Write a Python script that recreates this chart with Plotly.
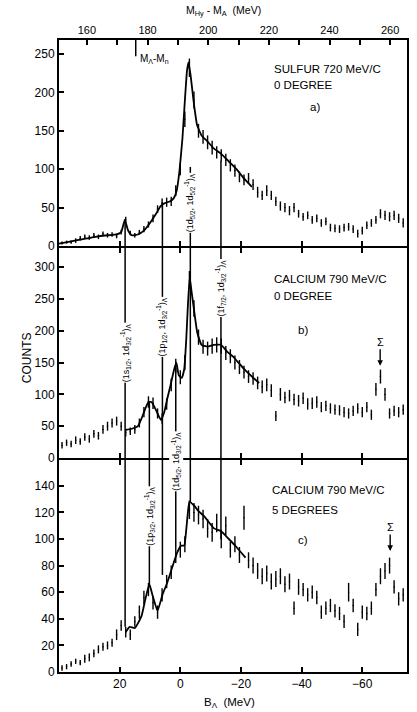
import numpy as np
import plotly.graph_objects as go

# Lambda binding energy bin centres (MeV), 1.5 MeV bins
B_BINS = np.arange(39.0, -74.0, -1.5)

# (a) 32S, 720 MeV/c, 0 degree
COUNTS_S = [4, 5, 5, 7, 10, 12, 11, 14, 12, 16,
            14, 15, 13, 18, 34, 17, 14, 18, 22, 28,
            36, 48, 56, 57, 58, 72, 100, 165, 232, 190,
            150, 142, 135, 128, 122, 118, 112, 105, 98, 90,
            86, 88, 80, 70, 66, 72, 66, 58, 52, 50,
            46, 50, 42, 38, 40, 34, 36, 30, 32, 24,
            23, 22, 24, 25, 22, 16, 20, 27, 30, 34,
            42, 40, 38, 40, 36, 30]
ERR_S = [2, 2, 2, 3, 3, 3, 3, 3, 3, 3,
         3, 3, 3, 3, 4, 3, 3, 3, 4, 4,
         5, 5, 6, 6, 6, 7, 8, 10, 12, 11,
         9, 9, 9, 9, 8, 8, 8, 8, 8, 7,
         7, 7, 7, 7, 6, 7, 6, 6, 6, 6,
         6, 6, 5, 5, 5, 5, 5, 5, 5, 5,
         5, 5, 5, 5, 5, 5, 5, 5, 5, 5,
         6, 6, 6, 6, 6, 6]

# (b) 40Ca, 790 MeV/c, 0 degree
COUNTS_CA0 = [20, 24, 22, 28, 26, 33, 30, 38, 35, 45,
              50, 55, 58, 50, 40, 42, 45, 55, 72, 88,
              86, 70, 62, 85, 115, 145, 127, 150, 280, 235,
              190, 175, 172, 176, 178, 176, 165, 160, 150, 143,
              135, 128, 125, 118, 112, 115, 106, 66, 100, 95,
              98, 92, 90, 94, 85, 86, 88, 80, 82, 78,
              76, 75, 72, 70, 74, 78, 72, 80, 68, 108,
              128, 100, 70, 74, 72, 76]
ERR_CA0 = [5, 5, 5, 6, 5, 6, 6, 6, 6, 7,
           7, 7, 7, 7, 6, 6, 7, 7, 8, 9,
           9, 8, 8, 9, 10, 11, 11, 12, 14, 13,
           12, 11, 11, 12, 12, 12, 11, 11, 11, 11,
           10, 10, 10, 10, 10, 10, 10, 8, 10, 9,
           9, 9, 9, 9, 9, 9, 9, 8, 8, 8,
           8, 8, 8, 8, 8, 8, 8, 8, 8, 10,
           11, 10, 8, 8, 8, 8]

# (c) 40Ca, 790 MeV/c, 5 degrees
COUNTS_CA5 = [3, 4, 6, 8, 7, 10, 11, 14, 17, 19,
              20, 22, 28, 35, 30, 28, 38, 45, 56, 62,
              52, 45, 58, 68, 75, 88, 92, 96, 122, 120,
              118, 115, 108, 105, 112, 100, 110, 92, 96, 88,
              116, 84, 80, 76, 72, 74, 68, 70, 72, 66,
              68, 48, 64, 62, 58, 60, 56, 45, 48, 50,
              46, 44, 38, 60, 50, 32, 45, 44, 48, 62,
              72, 76, 80, 64, 55, 58]
ERR_CA5 = [2, 2, 2, 2, 2, 3, 3, 3, 3, 3,
           3, 3, 4, 4, 4, 4, 4, 5, 5, 5,
           5, 5, 5, 5, 5, 6, 6, 6, 7, 7,
           7, 7, 7, 7, 7, 7, 7, 6, 6, 6,
           9, 6, 6, 6, 6, 6, 6, 6, 6, 6,
           6, 5, 6, 5, 5, 5, 5, 5, 5, 5,
           5, 5, 5, 7, 5, 5, 5, 5, 5, 5,
           6, 6, 6, 5, 5, 5]

# Smooth fitted curves drawn through the spectra
FIT_S_B = [40, 36, 32, 28, 24, 21, 19.5, 18.3, 17.2, 16, 14, 12, 10, 8, 6.5, 5, 3.5,
           2.2, 1.2, 0.3, -0.7, -1.4, -2.2, -2.7, -3.4, -4.4, -5.5, -7, -9, -11,
           -13.5, -16, -18.5, -21, -23.6]
FIT_S = [3, 6, 9, 12, 14, 15, 18, 34, 20, 14, 15, 20, 30, 42, 52, 56, 58,
         62, 72, 97, 140, 183, 228, 239, 222, 188, 158, 144, 136, 127,
         120, 110, 100, 88, 77]

FIT_CA0_B = [18.2, 16, 14, 12.8, 11.5, 10.5, 9.5, 8.5, 7.5, 6.4, 5.3, 4.2, 3.2, 2, 1.3,
             0.5, -0.5, -1.3, -2, -2.5, -3.1, -3.7, -4.6, -5.6, -7, -9, -11, -13.4,
             -15.5, -17.7, -21, -24.3, -26]
FIT_CA0 = [44, 46, 50, 62, 78, 88, 88, 80, 70, 60, 72, 95, 115, 140, 150,
           130, 126, 140, 190, 240, 284, 262, 230, 197, 178, 175, 178, 178,
           167, 158, 140, 125, 118]

FIT_CA5_B = [18, 16.7, 15, 12.8, 11.5, 10.2, 9.2, 7.5, 5.9, 4.5, 3.6, 2.2, 1, -0.3,
             -1.3, -2, -2.5, -3, -4.6, -6, -7.9, -11.1, -13.4, -16, -18.5, -21.5]
FIT_CA5 = [30, 34, 33, 42, 55, 66, 58, 46, 58, 66, 72, 82, 90, 95,
           95, 108, 120, 128, 125, 121, 117, 108, 106, 100, 94, 86]

# Axis ranges (counts) of the three panels
Y_RANGE_S, Y_RANGE_CA0, Y_RANGE_CA5 = 268.2, 330.2, 159.4

# Hypernuclear state positions (B_Lambda, MeV)
STATE_B = [18.2, 10.2, 5.9, 1.5, -3.3, -13.4]
# vertical extent of each state line per panel (top, bottom) in counts; None = no line
STATE_SPAN_S = [(35, 0), None, (57, 0), None, (103, 0), (111, 0)]
STATE_SPAN_CA0 = [(Y_RANGE_CA0, 0), (89, 0), (Y_RANGE_CA0, 0), (142, 0),
                  (Y_RANGE_CA0, 0), (Y_RANGE_CA0, 0)]
STATE_SPAN_CA5 = [(Y_RANGE_CA5, 34), (Y_RANGE_CA5, 66), (Y_RANGE_CA5, 73),
                  (Y_RANGE_CA5, 94), (Y_RANGE_CA5, 127), (Y_RANGE_CA5, 100)]

# state labels: (B, panel y-axis, centre count, text)
STATE_LABELS = [
    (-3.3, "y3", 56, "(1d<sub>5/2</sub>, 1d<sub>5/2</sub><sup>-1</sup>)<sub>Λ</sub>"),
    (18.2, "y2", 165, "(1s<sub>1/2</sub>, 1d<sub>3/2</sub><sup>-1</sup>)<sub>Λ</sub>"),
    (5.9, "y2", 206, "(1p<sub>1/2</sub>, 1d<sub>3/2</sub><sup>-1</sup>)<sub>Λ</sub>"),
    (-13.4, "y2", 268, "(1f<sub>7/2</sub>, 1d<sub>3/2</sub><sup>-1</sup>)<sub>Λ</sub>"),
    (1.5, "y", 158.6, "(1d<sub>5/2</sub>, 1d<sub>3/2</sub><sup>-1</sup>)<sub>Λ</sub>"),
    (10.2, "y", 117, "(1p<sub>3/2</sub>, 1d<sub>3/2</sub><sup>-1</sup>)<sub>Λ</sub>"),
]

# Sigma production peaks: (B, panel, count at arrow tip)
SIGMA_MARKS = [(-65.9, "y2", 145), (-69.2, "y", 91)]

M_LAMBDA_MINUS_MN = 176.1   # MeV
M_OFFSET = 190.8            # M_Hy - M_A = M_OFFSET - B_Lambda

Y_TICKS_S = [0, 50, 100, 150, 200, 250]
Y_TICKS_CA0 = [0, 50, 100, 150, 200, 250, 300]
Y_TICKS_CA5 = [0, 20, 40, 60, 80, 100, 120, 140]
X_TICKS = [20, 0, -20, -40, -60]
M_TICKS = [160, 170, 180, 190, 200, 210, 220, 230, 240, 250, 260]
M_TICK_TEXT = ["160", "", "180", "", "200", "", "220", "", "240", "", "260"]

FONT = "Liberation Sans, Arial, sans-serif"
B_RANGE = [40.0, -74.75]

fig = go.Figure()

panels = [
    ("x3", "y3", COUNTS_S, ERR_S, FIT_S_B, FIT_S),
    ("x2", "y2", COUNTS_CA0, ERR_CA0, FIT_CA0_B, FIT_CA0),
    ("x", "y", COUNTS_CA5, ERR_CA5, FIT_CA5_B, FIT_CA5),
]
for xa, ya, cnt, err, fb, fv in panels:
    fig.add_trace(go.Scatter(
        x=fb, y=fv, mode="lines", xaxis=xa, yaxis=ya,
        line=dict(color="black", width=1.8, shape="spline", smoothing=0.4),
        hoverinfo="skip", showlegend=False))
    fig.add_trace(go.Scatter(
        x=B_BINS, y=cnt, mode="markers", xaxis=xa, yaxis=ya,
        marker=dict(size=1.5, color="black"),
        error_y=dict(type="data", array=err, thickness=1.4, width=0, color="black"),
        showlegend=False))

# invisible trace carrying the top mass axis
fig.add_trace(go.Scatter(x=[M_OFFSET - b for b in B_RANGE], y=[0, 0], xaxis="x4", yaxis="y3",
                         mode="markers", marker=dict(opacity=0), hoverinfo="skip",
                         showlegend=False))

shapes = []
for spans, xa, ya in [(STATE_SPAN_S, "x3", "y3"), (STATE_SPAN_CA0, "x2", "y2"),
                      (STATE_SPAN_CA5, "x", "y")]:
    for b, sp in zip(STATE_B, spans):
        if sp is None:
            continue
        shapes.append(dict(type="line", xref=xa, yref=ya, x0=b, x1=b, y0=sp[0], y1=sp[1],
                           line=dict(color="black", width=1.5)))
# M_Lambda - M_n marker under the top axis
shapes.append(dict(type="line", xref="x4", yref="y3", x0=M_LAMBDA_MINUS_MN, x1=M_LAMBDA_MINUS_MN,
                   y0=Y_RANGE_S, y1=247, line=dict(color="black", width=1.5)))

ann = []
xref_of = {"y": "x", "y2": "x2", "y3": "x3"}
for b, ya, yc, txt in STATE_LABELS:
    ann.append(dict(x=b, y=yc, xref=xref_of[ya], yref=ya, text=txt, textangle=-90,
                    showarrow=False, bgcolor="white", borderpad=0,
                    font=dict(family=FONT, size=9, color="black")))
for b, ya, yc in SIGMA_MARKS:
    ann.append(dict(x=b, y=yc, xref=xref_of[ya], yref=ya, text="Σ", showarrow=True,
                    ax=0, ay=-24, arrowhead=2, arrowsize=0.8, arrowwidth=1.4,
                    arrowcolor="black", font=dict(family=FONT, size=11, color="black")))

panel_text = [
    ("x3", "y3", -30.2, 230.5, "SULFUR 720 MeV/C"), ("x3", "y3", -30.2, 209.6, "0 DEGREE"),
    ("x3", "y3", -42.0, 181, "a)"),
    ("x2", "y2", -30.2, 280.7, "CALCIUM 790 MeV/C"), ("x2", "y2", -30.2, 254, "0 DEGREE"),
    ("x2", "y2", -38.0, 202, "b)"),
    ("x", "y", -29.5, 136.8, "CALCIUM 790 MeV/C"), ("x", "y", -29.5, 121.8, "5 DEGREES"),
    ("x", "y", -38.0, 99, "c)"),
]
for xa, ya, xx, yy, txt in panel_text:
    ann.append(dict(x=xx, y=yy, xref=xa, yref=ya, text=txt, showarrow=False, xanchor="left",
                    font=dict(family=FONT, size=11.5, color="black")))

ann.append(dict(x=8.5, y=243.5, xref="x3", yref="y3", text="M<sub>Λ</sub>-M<sub>n</sub>",
                showarrow=False, font=dict(family=FONT, size=10, color="black")))
ann.append(dict(x=-0.117, y=0.497, xref="paper", yref="paper", text="COUNTS", textangle=-90,
                showarrow=False, font=dict(family=FONT, size=12, color="black")))
ann.append(dict(x=0.491, y=-0.0348, xref="paper", yref="paper", yanchor="top",
                text="B<sub>Λ</sub>  (MeV)",
                showarrow=False, font=dict(family=FONT, size=11.5, color="black")))
ann.append(dict(x=0.474, y=1.0316, xref="paper", yref="paper", yanchor="bottom",
                text="M<sub>Hy</sub> - M<sub>A</sub>  (MeV)",
                showarrow=False, font=dict(family=FONT, size=10.5, color="black")))

axis_common = dict(showline=True, linewidth=2, linecolor="black", showgrid=False,
                   zeroline=False, ticks="inside", ticklen=5, tickwidth=2, tickcolor="black",
                   tickfont=dict(family=FONT, size=12, color="black"))

fig.update_layout(
    width=417, height=712,
    margin=dict(l=59, r=8, t=40, b=40),
    paper_bgcolor="white", plot_bgcolor="white",
    showlegend=False,
    xaxis=dict(domain=[0, 1], anchor="y", range=B_RANGE, tickvals=X_TICKS,
               mirror="ticks", **axis_common),
    xaxis2=dict(domain=[0, 1], anchor="y2", matches="x", range=B_RANGE, tickvals=X_TICKS,
                showticklabels=False, mirror="ticks", **axis_common),
    xaxis3=dict(domain=[0, 1], anchor="y3", matches="x", range=B_RANGE, tickvals=X_TICKS,
                showticklabels=False, **axis_common),
    xaxis4=dict(overlaying="x3", anchor="y3", side="top",
                range=[M_OFFSET - B_RANGE[0], M_OFFSET - B_RANGE[1]],
                tickvals=M_TICKS, ticktext=M_TICK_TEXT,
                **{**axis_common, "tickfont": dict(family=FONT, size=11, color="black")}),
    yaxis=dict(domain=[0, 0.33544], anchor="x", range=[0, Y_RANGE_CA5], tickvals=Y_TICKS_CA5,
               mirror=True, **axis_common),
    yaxis2=dict(domain=[0.33861, 0.67089], anchor="x2", range=[0, Y_RANGE_CA0],
                tickvals=Y_TICKS_CA0, mirror=True, **axis_common),
    yaxis3=dict(domain=[0.67405, 1], anchor="x3", range=[0, Y_RANGE_S], tickvals=Y_TICKS_S,
                mirror=True, **axis_common),
    shapes=shapes,
    annotations=ann,
)

fig.write_html("out.html")
